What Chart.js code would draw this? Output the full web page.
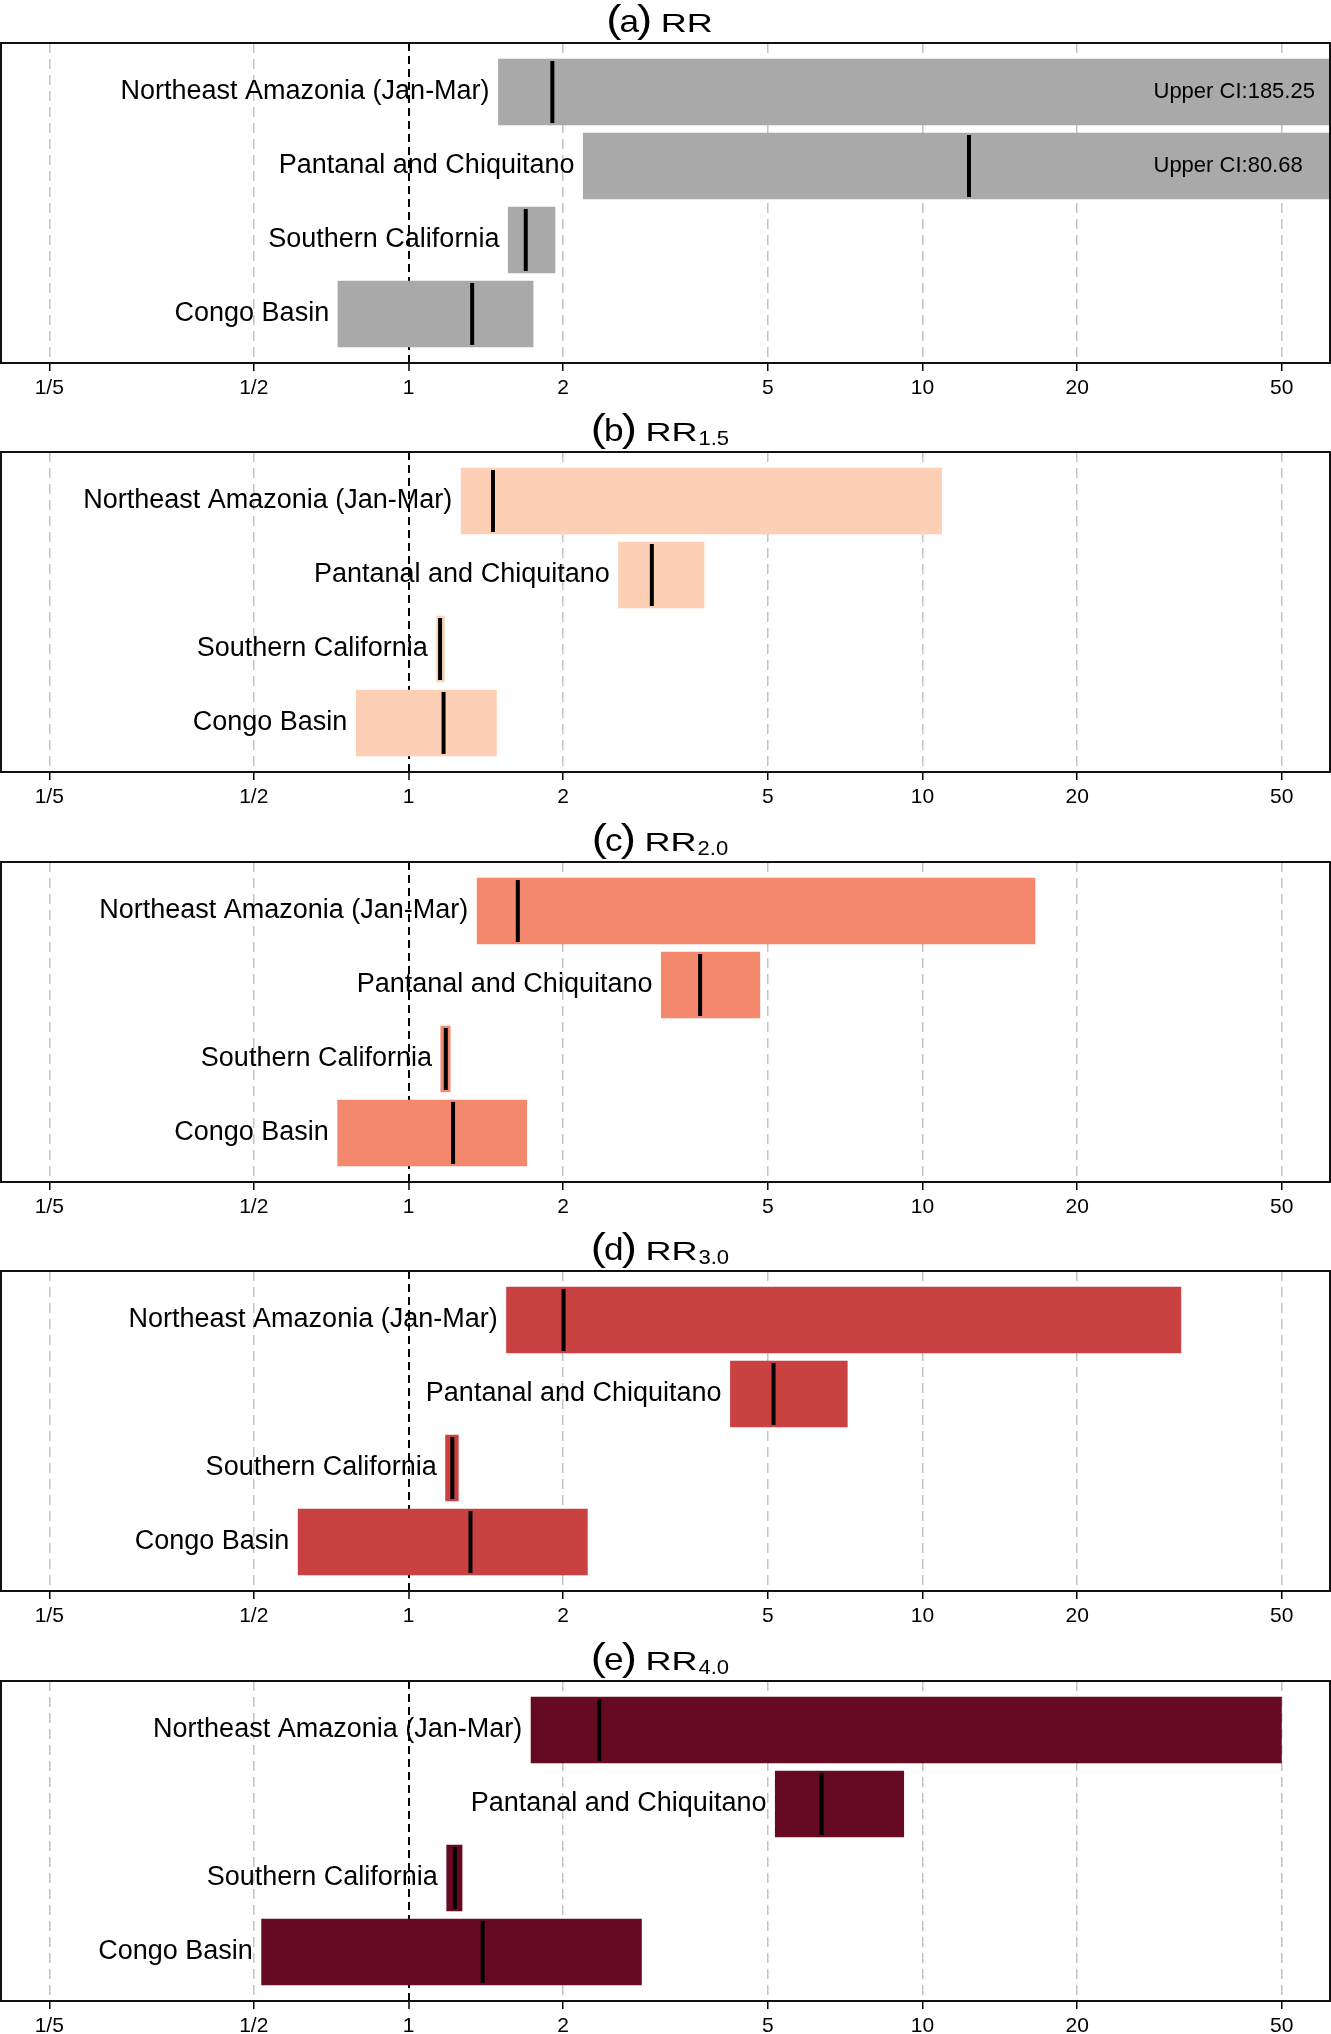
<!DOCTYPE html>
<html><head><meta charset="utf-8">
<script src="https://cdn.jsdelivr.net/npm/chart.js@4.4.1/dist/chart.umd.min.js"></script>
<style>
html,body{margin:0;padding:0;background:#fff;width:1331px;height:2034px;overflow:hidden;}
.panel{position:absolute;left:0;width:1331px;height:410px;}
canvas{display:block;}
</style></head><body>
<div id="wrap"></div>
<script>
// ---------- data ----------
const regions = ["Northeast Amazonia (Jan-Mar)", "Pantanal and Chiquitano", "Southern California", "Congo Basin"];
const panelLetters = ["a", "b", "c", "d", "e"];
const panelSubs = ["", "1.5", "2.0", "3.0", "4.0"];
const barColors = ["#A9A9A9", "#FDCFB4", "#F3886C", "#C94141", "#660A21"];
const tickValues = [0.2, 0.5, 1, 2, 5, 10, 20, 50];
const tickLabels = ["1/5", "1/2", "1", "2", "5", "10", "20", "50"];
const axisMin = 0.1611;
const axisMax = 62.09;

// (a) RR
const lowerRR = [1.494, 2.185, 1.561, 0.728];
const bestRR  = [1.905, 12.32, 1.691, 1.330];
const upperRR = [185.25, 80.68, 1.931, 1.750];
// (b) RR1.5
const lower15 = [1.264, 2.559, 1.133, 0.790];
const best15  = [1.460, 2.975, 1.152, 1.170];
const upper15 = [10.91, 3.764, 1.176, 1.485];
// (c) RR2.0
const lower20 = [1.358, 3.099, 1.154, 0.727];
const best20  = [1.632, 3.693, 1.182, 1.221];
const upper20 = [16.58, 4.834, 1.207, 1.701];
// (d) RR3.0
const lower30 = [1.549, 4.224, 1.179, 0.609];
const best30  = [2.003, 5.132, 1.217, 1.320];
const upper30 = [31.88, 7.152, 1.252, 2.232];
// (e) RR4.0
const lower40 = [1.729, 5.164, 1.185, 0.517];
const best40  = [2.351, 6.364, 1.231, 1.394];
const upper40 = [50.03, 9.21, 1.273, 2.844];

const lowers = [lowerRR, lower15, lower20, lower30, lower40];
const bests  = [bestRR, best15, best20, best30, best40];
const uppers = [upperRR, upper15, upper20, upper30, upper40];

const FONT = '"Liberation Sans", Arial, Helvetica, sans-serif';

// ---------- decoration plugin ----------
const decoPlugin = {
  id: 'deco',
  afterDatasetsDraw(chart, args, opts) {
    const p = opts.panel;
    const {ctx, chartArea, scales: {x, y}} = chart;
    ctx.save();
    ctx.font = '27px ' + FONT;
    ctx.fillStyle = '#000';
    ctx.textAlign = 'right';
    ctx.textBaseline = 'alphabetic';
    regions.forEach((r, i) => {
      const px = x.getPixelForValue(lowers[p][i]);
      const py = y.getPixelForValue(i + 1);
      ctx.fillText(r, px - 8.5, py + 7);
    });
    ctx.font = '22px ' + FONT;
    ctx.textAlign = 'left';
    uppers[p].forEach((u, i) => {
      if (u > axisMax) {
        const py = y.getPixelForValue(i + 1);
        ctx.fillText('Upper CI:' + u.toFixed(2), chartArea.right - 176.5, py + 5.5);
      }
    });
    ctx.restore();
  },
  afterDraw(chart, args, opts) {
    const p = opts.panel;
    const {ctx, chartArea} = chart;
    ctx.save();
    ctx.strokeStyle = '#111';
    ctx.lineWidth = 2;
    ctx.strokeRect(chartArea.left, chartArea.top, chartArea.right - chartArea.left, chartArea.bottom - chartArea.top);
    // title
    const base = 32;
    const parts = [
      {t: '(', size: 38, sx: 1.2, dy: 0, after: -2},
      {t: panelLetters[p], size: 32, sx: 1.1, dy: 0, after: -2},
      {t: ')', size: 38, sx: 1.2, dy: 0, after: 8.6},
      {t: 'RR', size: 26.5, sx: 1.36, dy: 0, after: 1},
    ];
    if (panelSubs[p]) parts.push({t: panelSubs[p], size: 21, sx: 1.05, dy: 4});
    let total = 0;
    parts.forEach(pt => {
      ctx.font = pt.size + 'px ' + FONT;
      pt.w = ctx.measureText(pt.t).width * pt.sx;
      total += pt.w + (pt.after || 0);
    });
    let cx = 660 - total / 2;
    ctx.fillStyle = '#000';
    ctx.textAlign = 'left';
    ctx.textBaseline = 'alphabetic';
    parts.forEach(pt => {
      ctx.save();
      ctx.font = pt.size + 'px ' + FONT;
      ctx.translate(cx, base + pt.dy);
      ctx.scale(pt.sx, 1);
      ctx.fillText(pt.t, 0, 0);
      ctx.restore();
      cx += pt.w + (pt.after || 0);
    });
    ctx.restore();
  }
};

function makeChart(canvas, p) {
  const bars = regions.map((r, i) => ({x: [lowers[p][i], uppers[p][i]], y: i + 1}));
  const pts = regions.map((r, i) => ({x: bests[p][i], y: i + 1}));
  return new Chart(canvas, {
    type: 'bar',
    data: {
      datasets: [
        {
          type: 'scatter',
          data: pts,
          pointStyle: 'line',
          pointRotation: 90,
          pointRadius: 31,
          pointBorderWidth: 4,
          pointBorderColor: '#000',
          pointBackgroundColor: '#000',
          showLine: false,
          order: 0,
          clip: 0
        },
        {
          type: 'bar',
          data: bars,
          backgroundColor: barColors[p],
          borderWidth: 0,
          barPercentage: 0.898,
          categoryPercentage: 1,
          grouped: false,
          order: 1,
          clip: 0
        }
      ]
    },
    options: {
      indexAxis: 'y',
      responsive: false,
      devicePixelRatio: 1,
      animation: false,
      events: [],
      layout: {autoPadding: false, padding: {top: 43, left: 1, right: 1, bottom: 0}},
      plugins: {
        legend: {display: false},
        tooltip: {enabled: false},
        title: {display: false},
        deco: {panel: p}
      },
      scales: {
        x: {
          type: 'logarithmic',
          position: 'bottom',
          min: axisMin,
          max: axisMax,
          offset: false,
          afterBuildTicks: s => { s.ticks = tickValues.map(v => ({value: v})); },
          afterFit: s => { s.height = 47; s.paddingLeft = 0; s.paddingRight = 0; },
          ticks: {
            autoSkip: false,
            maxRotation: 0,
            minRotation: 0,
            padding: 5,
            color: '#000',
            font: {family: FONT, size: 21},
            callback: (v) => tickLabels[tickValues.indexOf(v)]
          },
          grid: {
            display: true,
            offset: false,
            drawOnChartArea: true,
            drawTicks: true,
            color: c => (c.tick && c.tick.value === 1) ? '#000' : '#C4C4C4',
            lineWidth: c => (c.tick && c.tick.value === 1) ? 2 : 1.5,
            tickColor: '#000',
            tickWidth: 1.5,
            tickLength: 8,
            tickBorderDash: []
          },
          border: {
            display: false,
            dash: c => (c.tick && c.tick.value === 1) ? [8, 5] : [10, 6]
          }
        },
        y: {
          type: 'linear',
          display: false,
          reverse: true,
          offset: false,
          grid: {offset: false},
          min: 0.337,
          max: 4.663,
          afterBuildTicks: s => { s.ticks = [1, 2, 3, 4].map(v => ({value: v})); }
        }
      }
    },
    plugins: [decoPlugin]
  });
}

const wrap = document.getElementById('wrap');
for (let p = 0; p < 5; p++) {
  const div = document.createElement('div');
  div.className = 'panel';
  div.style.top = Math.round(p * 409.4) + 'px';
  const cv = document.createElement('canvas');
  cv.width = 1331; cv.height = 410;
  cv.style.width = '1331px'; cv.style.height = '410px';
  div.appendChild(cv);
  wrap.appendChild(div);
  makeChart(cv, p);
}
</script>
</body></html>
